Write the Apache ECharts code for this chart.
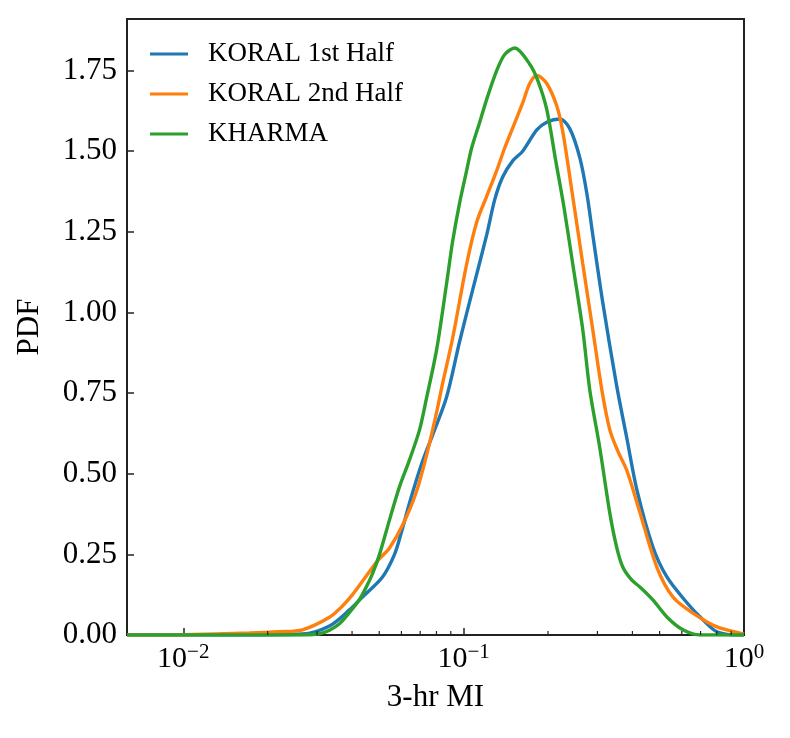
<!DOCTYPE html>
<html>
<head>
<meta charset="utf-8">
<script src="https://cdn.jsdelivr.net/npm/echarts@6/dist/echarts.min.js"></script>
<style>
  html, body { margin: 0; padding: 0; background: #fff; }
  #chart { width: 790px; height: 738px; }
</style>
</head>
<body>
<div id="chart"></div>
<script>
// 3-hr MI values (x) and PDF (y)
const koral1X = [0.0063, 0.015, 0.02661, 0.03322, 0.03916, 0.04358, 0.05137, 0.05669, 0.06005, 0.06465, 0.07079, 0.07749, 0.08694, 0.09676, 0.1077, 0.1208, 0.1291, 0.1378, 0.1496, 0.1624, 0.1823, 0.1979, 0.2202, 0.2391, 0.2596, 0.2750, 0.2889, 0.3136, 0.3519, 0.3821, 0.4149, 0.4732, 0.5309, 0.6257, 0.7138, 0.8009, 0.9441, 1.0];
const koral1Y = [0, 0, 0.003, 0.028, 0.078, 0.118, 0.18, 0.25, 0.32, 0.42, 0.53, 0.62, 0.738, 0.91, 1.07, 1.24, 1.35, 1.42, 1.47, 1.50, 1.566, 1.59, 1.60, 1.57, 1.48, 1.37, 1.24, 1.03, 0.77, 0.61, 0.45, 0.273, 0.18, 0.10, 0.047, 0.01, 0, 0];

const koral2X = [0.0063, 0.01, 0.01721, 0.02203, 0.02661, 0.03322, 0.03697, 0.04014, 0.0443, 0.04931, 0.05441, 0.06054, 0.06791, 0.07437, 0.08008, 0.08414, 0.09135, 0.1025, 0.1113, 0.1208, 0.1312, 0.1401, 0.1509, 0.1624, 0.1721, 0.1823, 0.1979, 0.2149, 0.2258, 0.2430, 0.2661, 0.2889, 0.3111, 0.3322, 0.3548, 0.3821, 0.4253, 0.4890, 0.5577, 0.6575, 0.8009, 0.9676, 1.0];
const koral2Y = [0, 0.001, 0.006, 0.01, 0.016, 0.055, 0.09, 0.125, 0.175, 0.23, 0.27, 0.34, 0.445, 0.57, 0.69, 0.78, 0.92, 1.15, 1.28, 1.36, 1.44, 1.51, 1.58, 1.65, 1.71, 1.735, 1.71, 1.64, 1.56, 1.38, 1.15, 0.946, 0.76, 0.636, 0.57, 0.51, 0.38, 0.21, 0.118, 0.068, 0.025, 0.006, 0.003];

const kharmaX = [0.0063, 0.02661, 0.0306, 0.03322, 0.03606, 0.03916, 0.04251, 0.04503, 0.04732, 0.05012, 0.05441, 0.05907, 0.06412, 0.06962, 0.07376, 0.08008, 0.08694, 0.09135, 0.09676, 0.1025, 0.1068, 0.1141, 0.1218, 0.1312, 0.1401, 0.1521, 0.1721, 0.1838, 0.1979, 0.2131, 0.2276, 0.2450, 0.2661, 0.2818, 0.3060, 0.3322, 0.3519, 0.3698, 0.3981, 0.4253, 0.4732, 0.5309, 0.6055, 0.6964, 1.0];
const kharmaY = [0, 0, 0.004, 0.015, 0.035, 0.07, 0.11, 0.15, 0.19, 0.25, 0.357, 0.46, 0.543, 0.636, 0.735, 0.884, 1.09, 1.22, 1.34, 1.44, 1.51, 1.59, 1.67, 1.75, 1.80, 1.82, 1.77, 1.72, 1.63, 1.47, 1.33, 1.15, 0.946, 0.76, 0.58, 0.378, 0.27, 0.21, 0.17, 0.149, 0.109, 0.056, 0.016, 0, 0];

const seriesNames = ['KORAL 1st Half', 'KORAL 2nd Half', 'KHARMA'];
const minorTicks = [0.02, 0.03, 0.04, 0.05, 0.06, 0.07, 0.08, 0.09, 0.2, 0.3, 0.4, 0.5, 0.6, 0.7, 0.8, 0.9];

const colors = ['#1f77b4', '#ff7f0e', '#2ca02c'];
const font = '"Liberation Serif", "Times New Roman", serif';

const zip = (xs, ys) => xs.map((x, i) => [x, ys[i]]);
const seriesData = [zip(koral1X, koral1Y), zip(koral2X, koral2Y), zip(kharmaX, kharmaY)];

const chart = echarts.init(document.getElementById('chart'));

const option = {
    animation: false,
    backgroundColor: '#fff',
    textStyle: { fontFamily: font },
    grid: {
        left: 127, right: 46, top: 19, bottom: 103,
        show: true, borderColor: '#222', borderWidth: 2, backgroundColor: 'transparent'
    },
    legend: {
        orient: 'vertical',
        left: 150,
        top: 39,
        padding: 0,
        icon: 'rect',
        itemWidth: 38,
        itemHeight: 3,
        itemGap: 10,
        data: seriesNames,
        textStyle: { fontFamily: font, fontSize: 27, color: '#000', lineHeight: 30, padding: [0, 0, 0, 15] }
    },
    xAxis: {
        type: 'log',
        logBase: 10,
        min: 0.0063,
        max: 1,
        name: '3-hr MI',
        nameLocation: 'middle',
        nameGap: 47,
        nameTextStyle: { fontFamily: font, fontSize: 31, color: '#000' },
        axisLine: { show: true, lineStyle: { color: '#222', width: 2 } },
        axisTick: { show: true, inside: true, length: 7, lineStyle: { color: '#222', width: 1.5 } },
        splitLine: { show: false },
        axisLabel: {
            margin: 7,
            color: '#000',
            formatter: function (v) {
                const e = Math.log10(v);
                if (Math.abs(e - Math.round(e)) > 1e-6) return '';
                const n = Math.round(e);
                return '{b|10}{s|' + (n < 0 ? '\u2212' + (-n) : n) + '}';
            },
            rich: {
                b: { fontFamily: font, fontSize: 30, lineHeight: 34, color: '#000' },
                s: { fontFamily: font, fontSize: 21, lineHeight: 21, verticalAlign: 'top', color: '#000' }
            }
        }
    },
    yAxis: {
        type: 'value',
        min: 0,
        max: 1.91,
        interval: 0.25,
        name: 'PDF',
        nameLocation: 'middle',
        nameGap: 82,
        nameTextStyle: { fontFamily: font, fontSize: 31, color: '#000' },
        axisLine: { show: true, lineStyle: { color: '#222', width: 2 } },
        axisTick: { show: true, inside: true, length: 7, lineStyle: { color: '#222', width: 1.5 } },
        splitLine: { show: false },
        axisLabel: {
            margin: 10,
            color: '#000',
            fontFamily: font,
            fontSize: 31,
            showMaxLabel: false,
            formatter: function (v) {
                const k = v / 0.25;
                if (Math.abs(k - Math.round(k)) > 1e-6) return '';
                return v.toFixed(2);
            }
        }
    },
    series: seriesNames.map((name, i) => ({
        name: name,
        type: 'line',
        data: seriesData[i],
        smooth: 0.3,
        showSymbol: false,
        symbol: 'none',
        lineStyle: { color: colors[i], width: 3.4 },
        itemStyle: { color: colors[i] },
        z: 3 + i
    }))
};

chart.setOption(option);

// log minor ticks on the bottom axis, placed through the chart's own scale
const y0 = chart.convertToPixel({ yAxisIndex: 0 }, 0);
chart.setOption({
    graphic: minorTicks.map(v => {
        const px = chart.convertToPixel({ xAxisIndex: 0 }, v);
        return {
            type: 'line',
            shape: { x1: px, y1: y0, x2: px, y2: y0 - 4 },
            style: { stroke: '#222', lineWidth: 1.2 },
            z: 10
        };
    })
});

window.addEventListener('resize', () => {
    chart.resize();
});
</script>
</body>
</html>
